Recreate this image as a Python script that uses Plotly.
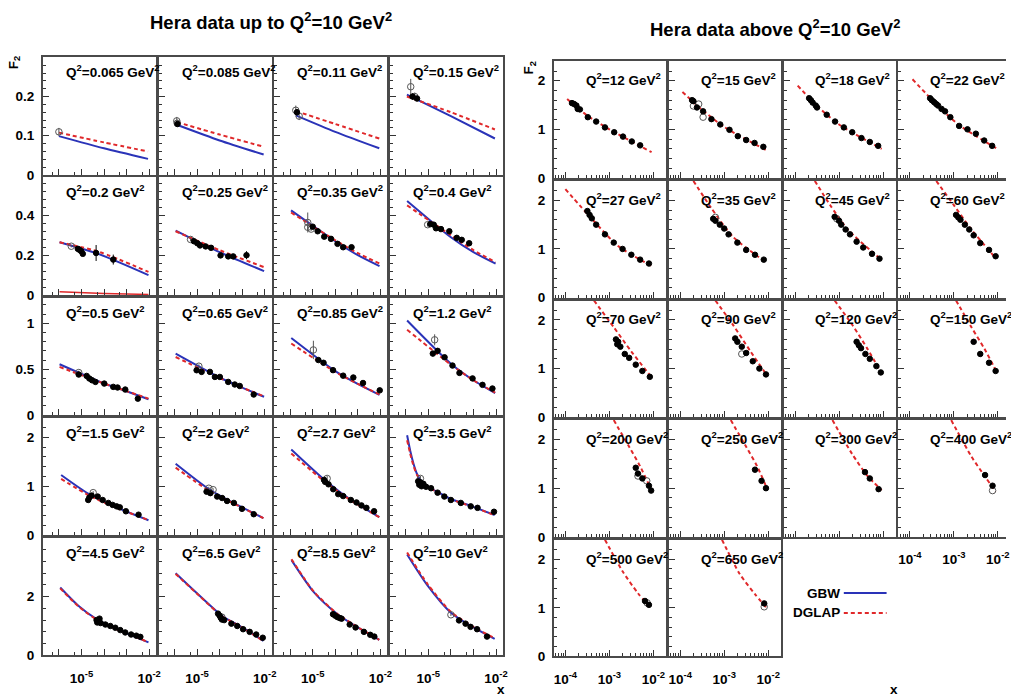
import plotly.graph_objects as go

W, H = 1011, 697

# ---------------- data (x stored as log10(x)) ----------------
LEFT_Q2 = ["0.065", "0.085", "0.11", "0.15", "0.2", "0.25", "0.35", "0.4",
           "0.5", "0.65", "0.85", "1.2", "1.5", "2", "2.7", "3.5",
           "4.5", "6.5", "8.5", "10"]
RIGHT_Q2 = ["12", "15", "18", "22", "27", "35", "45", "60", "70", "90",
            "120", "150", "200", "250", "300", "400", "500", "650"]

LEFT_YMAX = [0.3, 0.59, 1.28, 2.4, 4.0]
LEFT_YTICKS = [[0, 0.1, 0.2], [0, 0.2, 0.4], [0, 0.5, 1], [0, 1, 2], [0, 2]]
LEFT_YMINOR = [0.02, 0.04, 0.1, 0.2, 0.4]
RIGHT_YMAX = 2.4
RIGHT_YTICKS = [0, 1, 2]

LEFT_GBW = [
    [(-6.0, 0.099), (-4.0, 0.068), (-2.05, 0.041)],
    [(-5.9, 0.128), (-4.0, 0.088), (-2.05, 0.052)],
    [(-5.75, 0.152), (-4.0, 0.110), (-2.05, 0.068)],
    [(-5.95, 0.205), (-4.0, 0.150), (-2.05, 0.093)],
    [(-5.97, 0.265), (-4.2, 0.204), (-2.03, 0.100)],
    [(-5.95, 0.323), (-4.0, 0.215), (-2.03, 0.120)],
    [(-5.96, 0.425), (-4.0, 0.270), (-3.0, 0.200), (-2.04, 0.145)],
    [(-5.94, 0.472), (-4.0, 0.290), (-3.0, 0.215), (-2.02, 0.158)],
    [(-5.97, 0.554), (-4.0, 0.345), (-3.0, 0.260), (-2.03, 0.174)],
    [(-5.95, 0.670), (-4.0, 0.410), (-3.0, 0.300), (-2.03, 0.200)],
    [(-5.95, 0.840), (-4.0, 0.480), (-3.0, 0.340), (-2.04, 0.220)],
    [(-5.94, 1.030), (-4.0, 0.560), (-3.0, 0.380), (-2.04, 0.240)],
    [(-5.90, 1.230), (-4.7, 0.850), (-3.5, 0.580), (-2.03, 0.307)],
    [(-5.95, 1.460), (-4.5, 0.950), (-3.3, 0.640), (-2.06, 0.350)],
    [(-5.95, 1.750), (-4.4, 1.100), (-3.3, 0.720), (-2.05, 0.370)],
    [(-5.94, 2.040), (-5.80, 1.720), (-5.65, 1.450), (-5.50, 1.250),
     (-5.30, 1.100), (-5.0, 0.990), (-4.5, 0.860), (-4.0, 0.740),
     (-3.0, 0.580), (-2.06, 0.410)],
    [(-5.94, 2.310), (-5.15, 1.700), (-4.3, 1.220), (-3.5, 0.920), (-2.03, 0.445)],
    [(-5.95, 2.790), (-4.85, 2.000), (-3.9, 1.350), (-3.0, 0.950), (-2.06, 0.490)],
    [(-5.94, 3.240), (-4.94, 2.140), (-3.9, 1.400), (-3.0, 0.950), (-2.05, 0.530)],
    [(-5.94, 3.430), (-5.03, 2.370), (-4.0, 1.450), (-3.0, 0.950), (-2.06, 0.560)],
]
LEFT_DGLAP = [
    [(-6.0, 0.108), (-4.0, 0.083), (-2.05, 0.060)],
    [(-5.9, 0.135), (-4.0, 0.103), (-2.05, 0.072)],
    [(-5.75, 0.163), (-4.0, 0.130), (-2.05, 0.093)],
    [(-5.95, 0.200), (-4.0, 0.160), (-2.05, 0.116)],
    [(-5.97, 0.265), (-4.2, 0.216), (-2.03, 0.116)],
    [(-5.95, 0.320), (-4.0, 0.225), (-2.03, 0.140)],
    [(-5.96, 0.414), (-4.0, 0.275), (-3.0, 0.210), (-2.04, 0.158)],
    [(-5.94, 0.450), (-4.0, 0.300), (-3.0, 0.225), (-2.02, 0.165)],
    [(-5.97, 0.525), (-4.0, 0.345), (-3.0, 0.262), (-2.03, 0.180)],
    [(-5.95, 0.633), (-4.0, 0.405), (-3.0, 0.300), (-2.03, 0.205)],
    [(-5.95, 0.780), (-4.0, 0.470), (-3.0, 0.340), (-2.04, 0.225)],
    [(-5.94, 0.930), (-4.0, 0.550), (-3.0, 0.380), (-2.04, 0.245)],
    [(-5.90, 1.150), (-4.7, 0.820), (-3.5, 0.570), (-2.03, 0.310)],
    [(-5.95, 1.380), (-4.5, 0.920), (-3.3, 0.630), (-2.06, 0.350)],
    [(-5.95, 1.670), (-4.4, 1.070), (-3.3, 0.710), (-2.05, 0.370)],
    [(-5.94, 1.940), (-5.80, 1.660), (-5.65, 1.410), (-5.50, 1.230),
     (-5.30, 1.090), (-5.0, 0.985), (-4.5, 0.855), (-4.0, 0.735),
     (-3.0, 0.575), (-2.06, 0.410)],
    [(-5.94, 2.280), (-5.15, 1.680), (-4.3, 1.200), (-3.5, 0.910), (-2.03, 0.450)],
    [(-5.95, 2.770), (-4.85, 1.990), (-3.9, 1.340), (-3.0, 0.950), (-2.06, 0.490)],
    [(-5.94, 3.270), (-4.94, 2.160), (-3.9, 1.410), (-3.0, 0.960), (-2.05, 0.530)],
    [(-5.94, 3.500), (-5.03, 2.420), (-4.0, 1.480), (-3.0, 0.970), (-2.06, 0.580)],
]
# extra low red curve seen in the Q2=0.2 panel
LEFT_LOW_RED = [(-5.97, 0.017), (-4.0, 0.008), (-2.03, 0.003)]

LEFT_FILLED = [
    [],
    [(-5.87, 0.130, 0.005)],
    [(-5.70, 0.160, 0.008)],
    [(-5.70, 0.200, 0.008), (-5.50, 0.195, 0.007)],
    [(-5.16, 0.232, 0.006), (-5.09, 0.227, 0.006), (-5.01, 0.220, 0.006),
     (-4.94, 0.207, 0.006), (-4.35, 0.211, 0.040), (-3.59, 0.178, 0.025)],
    [(-5.14, 0.270, 0.005), (-4.99, 0.260, 0.005), (-4.87, 0.249, 0.005),
     (-4.62, 0.244, 0.005), (-4.38, 0.237, 0.005), (-3.96, 0.199, 0.006),
     (-3.62, 0.194, 0.006), (-3.40, 0.194, 0.006), (-2.81, 0.200, 0.020)],
    [(-5.00, 0.343, 0.008), (-4.78, 0.320, 0.006), (-4.49, 0.293, 0.006),
     (-4.19, 0.282, 0.006), (-3.90, 0.257, 0.006), (-3.65, 0.240, 0.006),
     (-3.28, 0.240, 0.008)],
    [(-4.91, 0.356, 0.006), (-4.76, 0.353, 0.006), (-4.66, 0.335, 0.006),
     (-4.44, 0.331, 0.006), (-4.07, 0.320, 0.007), (-3.74, 0.287, 0.007),
     (-3.52, 0.277, 0.007), (-3.19, 0.260, 0.008)],
    [(-5.12, 0.442, 0.01), (-4.77, 0.427, 0.01), (-4.65, 0.399, 0.01),
     (-4.53, 0.380, 0.01), (-4.38, 0.362, 0.01), (-3.99, 0.344, 0.01),
     (-3.59, 0.308, 0.01), (-3.40, 0.301, 0.01), (-3.06, 0.279, 0.01),
     (-2.50, 0.180, 0.015)],
    [(-5.02, 0.489, 0.01), (-4.80, 0.471, 0.01), (-4.43, 0.471, 0.01),
     (-4.21, 0.416, 0.01), (-3.99, 0.416, 0.01), (-3.62, 0.362, 0.01),
     (-3.33, 0.334, 0.01), (-3.11, 0.318, 0.01), (-2.49, 0.225, 0.015)],
    [(-4.75, 0.600, 0.02), (-4.52, 0.570, 0.02), (-4.10, 0.490, 0.015),
     (-3.65, 0.430, 0.015), (-3.20, 0.410, 0.015), (-2.77, 0.350, 0.015),
     (-2.03, 0.270, 0.015)],
    [(-4.80, 0.670, 0.03), (-4.59, 0.700, 0.03), (-4.28, 0.630, 0.02),
     (-3.93, 0.540, 0.02), (-3.62, 0.460, 0.02), (-3.04, 0.400, 0.02),
     (-2.60, 0.330, 0.02), (-2.16, 0.290, 0.02)],
    [(-4.70, 0.720, 0.02), (-4.65, 0.770, 0.02), (-4.55, 0.810, 0.02),
     (-4.28, 0.790, 0.02), (-4.06, 0.720, 0.02), (-3.81, 0.660, 0.02),
     (-3.62, 0.620, 0.02), (-3.44, 0.590, 0.02), (-3.30, 0.570, 0.02),
     (-3.03, 0.490, 0.02), (-2.47, 0.420, 0.02)],
    [(-4.58, 0.890, 0.02), (-4.41, 0.860, 0.02), (-4.11, 0.790, 0.02),
     (-3.89, 0.760, 0.02), (-3.67, 0.700, 0.02), (-3.37, 0.660, 0.02),
     (-3.01, 0.540, 0.02), (-2.49, 0.430, 0.02)],
    [(-4.50, 1.130, 0.03), (-4.45, 1.090, 0.03), (-4.30, 1.040, 0.03),
     (-4.09, 0.940, 0.02), (-3.87, 0.840, 0.02), (-3.65, 0.800, 0.02),
     (-3.31, 0.720, 0.02), (-3.06, 0.670, 0.02), (-2.84, 0.610, 0.02),
     (-2.62, 0.560, 0.02), (-2.28, 0.490, 0.02)],
    [(-5.45, 1.100, 0.03), (-5.40, 1.030, 0.03), (-5.35, 1.080, 0.03),
     (-5.30, 1.000, 0.03), (-5.22, 1.050, 0.03),
     (-5.10, 0.990, 0.02), (-4.88, 0.960, 0.02), (-4.59, 0.870, 0.02),
     (-4.29, 0.790, 0.02), (-4.00, 0.720, 0.02), (-3.56, 0.660, 0.02),
     (-3.12, 0.590, 0.02), (-2.82, 0.560, 0.02), (-2.09, 0.480, 0.02)],
    [(-4.33, 1.200, 0.03), (-4.30, 1.120, 0.03), (-4.25, 1.150, 0.03),
     (-4.20, 1.250, 0.03), (-4.15, 1.100, 0.03), (-3.94, 1.050, 0.02),
     (-3.72, 1.000, 0.02), (-3.50, 0.940, 0.02), (-3.28, 0.860, 0.02),
     (-3.06, 0.780, 0.02), (-2.80, 0.710, 0.02), (-2.57, 0.670, 0.02),
     (-2.39, 0.630, 0.02)],
    [(-4.07, 1.420, 0.03), (-4.00, 1.350, 0.03), (-3.95, 1.280, 0.03),
     (-3.90, 1.220, 0.03), (-3.80, 1.200, 0.03), (-3.48, 1.080, 0.02),
     (-3.22, 1.000, 0.02), (-2.96, 0.890, 0.02), (-2.67, 0.800, 0.02),
     (-2.38, 0.710, 0.02), (-2.09, 0.600, 0.02)],
    [(-4.10, 1.400, 0.03), (-4.00, 1.350, 0.03), (-3.90, 1.300, 0.03),
     (-3.80, 1.270, 0.03), (-3.72, 1.250, 0.03), (-3.36, 1.050, 0.02),
     (-3.10, 0.950, 0.02), (-2.73, 0.800, 0.02), (-2.45, 0.700, 0.02),
     (-2.27, 0.640, 0.02)],
    [(-3.64, 1.190, 0.03), (-3.35, 1.080, 0.02), (-3.13, 0.970, 0.02),
     (-2.84, 0.890, 0.02), (-2.40, 0.640, 0.02)],
]
LEFT_OPEN = [
    [(-6.00, 0.110, 0.010)],
    [(-5.90, 0.138, 0.010), (-5.88, 0.132, 0.008)],
    [(-5.75, 0.165, 0.012), (-5.60, 0.150, 0.010)],
    [(-5.78, 0.225, 0.020), (-5.60, 0.200, 0.010)],
    [(-5.45, 0.245, 0.006)],
    [(-5.29, 0.279, 0.008)],
    [(-5.22, 0.364, 0.050), (-5.22, 0.340, 0.015), (-5.07, 0.331, 0.010)],
    [(-5.03, 0.353, 0.010)],
    [(-5.12, 0.464, 0.020)],
    [(-4.92, 0.533, 0.020)],
    [(-4.97, 0.710, 0.100)],
    [(-4.72, 0.820, 0.060)],
    [(-4.48, 0.870, 0.030)],
    [(-4.48, 0.960, 0.030), (-4.29, 0.930, 0.030)],
    [(-4.36, 1.160, 0.050)],
    [(-5.35, 1.160, 0.050)],
    [],
    [(-3.90, 1.300, 0.040)],
    [],
    [(-4.00, 1.380, 0.040)],
]

RIGHT_DGLAP = [
    [(-3.96, 1.625), (-3.5, 1.280), (-3.0, 1.000), (-2.04, 0.530)],
    [(-3.95, 1.770), (-3.5, 1.400), (-3.0, 1.050), (-2.04, 0.570)],
    [(-3.94, 1.900), (-3.5, 1.480), (-3.0, 1.100), (-2.03, 0.600)],
    [(-3.94, 2.030), (-3.4, 1.520), (-2.9, 1.100), (-2.03, 0.610)],
    [(-4.00, 2.230), (-3.4, 1.620), (-2.8, 1.060), (-2.04, 0.650)],
    [(-3.70, 2.400), (-3.3, 1.850), (-2.8, 1.250), (-2.04, 0.720)],
    [(-3.55, 2.400), (-3.2, 1.900), (-2.8, 1.400), (-2.04, 0.780)],
    [(-3.40, 2.400), (-3.0, 1.900), (-2.6, 1.400), (-2.04, 0.800)],
    [(-3.35, 2.400), (-2.9, 1.850), (-2.5, 1.350), (-2.04, 0.820)],
    [(-3.20, 2.400), (-2.8, 1.900), (-2.4, 1.350), (-2.02, 0.850)],
    [(-3.10, 2.400), (-2.7, 1.900), (-2.35, 1.400), (-2.02, 0.880)],
    [(-2.95, 2.400), (-2.6, 1.850), (-2.3, 1.400), (-2.02, 0.920)],
    [(-2.90, 2.400), (-2.55, 1.850), (-2.3, 1.450), (-2.04, 0.950)],
    [(-2.85, 2.400), (-2.5, 1.850), (-2.25, 1.450), (-2.03, 1.000)],
    [(-3.15, 2.400), (-2.7, 1.700), (-2.35, 1.250), (-2.03, 0.960)],
    [(-3.06, 2.400), (-2.6, 1.650), (-2.3, 1.250), (-2.05, 0.930)],
    [(-3.10, 2.400), (-2.7, 1.750), (-2.35, 1.300), (-2.04, 0.970)],
    [(-3.05, 2.400), (-2.65, 1.700), (-2.3, 1.280), (-2.04, 1.000)],
]
RIGHT_FILLED = [
    [(-3.85, 1.54), (-3.80, 1.52), (-3.75, 1.49), (-3.72, 1.42), (-3.67, 1.41),
     (-3.49, 1.25), (-3.30, 1.16), (-3.10, 1.04), (-2.89, 0.94), (-2.69, 0.85),
     (-2.49, 0.75), (-2.30, 0.67)],
    [(-3.73, 1.60), (-3.70, 1.58), (-3.62, 1.45), (-3.48, 1.37), (-3.29, 1.21),
     (-3.09, 1.10), (-2.88, 0.99), (-2.69, 0.86), (-2.50, 0.78), (-2.31, 0.72),
     (-2.11, 0.64)],
    [(-3.68, 1.64), (-3.64, 1.60), (-3.60, 1.55), (-3.53, 1.49), (-3.50, 1.45),
     (-3.28, 1.30), (-3.09, 1.16), (-2.89, 1.04), (-2.70, 0.94), (-2.49, 0.82),
     (-2.30, 0.74), (-2.11, 0.66)],
    [(-3.54, 1.64), (-3.50, 1.60), (-3.45, 1.56), (-3.40, 1.52), (-3.36, 1.49),
     (-3.28, 1.42), (-3.20, 1.37), (-3.08, 1.25), (-2.88, 1.07), (-2.69, 1.00),
     (-2.50, 0.91), (-2.31, 0.77), (-2.13, 0.66)],
    [(-3.50, 1.78), (-3.45, 1.70), (-3.40, 1.63), (-3.30, 1.50), (-3.10, 1.30),
     (-2.90, 1.13), (-2.70, 1.00), (-2.50, 0.88), (-2.30, 0.78), (-2.10, 0.70)],
    [(-3.25, 1.62), (-3.20, 1.58), (-3.10, 1.50), (-3.00, 1.42), (-2.90, 1.30),
     (-2.70, 1.13), (-2.50, 0.98), (-2.30, 0.88), (-2.10, 0.78)],
    [(-3.10, 1.66), (-3.00, 1.58), (-2.95, 1.50), (-2.85, 1.40), (-2.75, 1.30),
     (-2.60, 1.15), (-2.45, 1.03), (-2.25, 0.90), (-2.08, 0.80)],
    [(-2.95, 1.70), (-2.90, 1.65), (-2.85, 1.60), (-2.75, 1.50), (-2.65, 1.40),
     (-2.55, 1.28), (-2.40, 1.12), (-2.20, 0.98), (-2.05, 0.85)],
    [(-2.85, 1.60), (-2.82, 1.50), (-2.80, 1.55), (-2.75, 1.45), (-2.65, 1.30),
     (-2.55, 1.22), (-2.40, 1.08), (-2.25, 0.95), (-2.08, 0.83)],
    [(-2.75, 1.62), (-2.70, 1.55), (-2.60, 1.45), (-2.50, 1.32), (-2.35, 1.15),
     (-2.20, 1.00), (-2.05, 0.88)],
    [(-2.60, 1.55), (-2.55, 1.48), (-2.50, 1.42), (-2.40, 1.30), (-2.30, 1.20),
     (-2.15, 1.05), (-2.05, 0.92)],
    [(-2.55, 1.55), (-2.40, 1.30), (-2.20, 1.12), (-2.05, 0.95)],
    [(-2.40, 1.42), (-2.35, 1.30), (-2.25, 1.20), (-2.10, 1.05), (-2.05, 0.95)],
    [(-2.30, 1.38), (-2.15, 1.15), (-2.05, 1.00)],
    [(-2.41, 1.33), (-2.30, 1.20), (-2.10, 0.98)],
    [(-2.29, 1.27), (-2.12, 1.05)],
    [(-2.19, 1.14), (-2.10, 1.06)],
    [(-2.09, 1.09)],
]
RIGHT_OPEN = [
    [],
    [(-3.70, 1.48), (-3.58, 1.52), (-3.48, 1.25)],
    [], [], [],
    [(-3.20, 1.65)],
    [(-3.05, 1.62)],
    [], [],
    [(-2.60, 1.30)],
    [], [],
    [(-2.35, 1.25), (-2.15, 1.15)],
    [], [],
    [(-2.12, 0.95)],
    [(-2.14, 1.10)],
    [(-2.09, 1.02)],
]

# ---------------- styling ----------------
BLUE = "#2a33b8"
RED = "#e0282a"
FRAME = "#4a4a4a"
FONT = "Liberation Sans, Arial, Helvetica, sans-serif"

fig = go.Figure()
layout = {}
annotations = []
shapes = []


def px_x(p):
    return p / W


def px_y(p):
    return 1 - p / H


def add_axes(n, x0, top, w, h, xr, yr, xmaj, xtext, xminor, ymaj, yminor,
             show_xlab, show_ylab, right_line=True):
    x1 = min(x0 + w, W)
    layout[f"xaxis{n}"] = dict(
        domain=[px_x(x0), px_x(x1)], range=xr, type="log", anchor=f"y{n}",
        showline=True, mirror=True, linecolor=FRAME, linewidth=2,
        ticks="inside", ticklen=6, tickwidth=1, tickcolor="#333",
        tickmode="array", tickvals=xmaj, ticktext=xtext,
        showticklabels=show_xlab, showgrid=False, zeroline=False,
        ticklabelstandoff=9,
        tickfont=dict(family=FONT, size=13.5, color="black", weight="bold"),
        minor=dict(tickmode="array", tickvals=xminor, ticks="inside",
                   ticklen=3, tickwidth=1, tickcolor="#333", showgrid=False),
        fixedrange=True)
    layout[f"yaxis{n}"] = dict(
        domain=[px_y(top + h), px_y(top)], range=yr, anchor=f"x{n}",
        showline=True, mirror=right_line, linecolor=FRAME, linewidth=2,
        ticks="inside", ticklen=6, tickwidth=1, tickcolor="#333",
        tickmode="array", tickvals=ymaj,
        ticktext=[f"{v:g}" for v in ymaj],
        showticklabels=show_ylab, showgrid=False, zeroline=False,
        ticklabelstandoff=4,
        tickfont=dict(family=FONT, size=13.5, color="black", weight="bold"),
        minor=dict(dtick=yminor, ticks="inside", ticklen=3, tickwidth=1,
                   tickcolor="#333", showgrid=False),
        fixedrange=True)


def add_line(n, pts, color, dash, width=2):
    fig.add_trace(go.Scatter(
        x=[10 ** p[0] for p in pts], y=[p[1] for p in pts], mode="lines",
        line=dict(color=color, dash=dash, width=width, shape="spline",
                  smoothing=0.7),
        xaxis=f"x{n}", yaxis=f"y{n}", showlegend=False, hoverinfo="skip"))


def add_points(n, pts, filled):
    if not pts:
        return
    errs = [p[2] if len(p) > 2 else 0.0 for p in pts]
    fig.add_trace(go.Scatter(
        x=[10 ** p[0] for p in pts], y=[p[1] for p in pts], mode="markers",
        marker=dict(symbol="circle" if filled else "circle-open",
                    size=5.5 if filled else 6.5,
                    color="black" if filled else "#555",
                    line=dict(width=1, color="black" if filled else "#555")),
        error_y=dict(type="data", array=errs, width=0, thickness=1,
                     color="black" if filled else "#555"),
        xaxis=f"x{n}", yaxis=f"y{n}", showlegend=False, hoverinfo="skip"))


def q2_label(n_q2, x, y):
    annotations.append(dict(
        text=f"Q<sup>2</sup>={n_q2} GeV<sup>2</sup>", x=px_x(x), y=px_y(y),
        xref="paper", yref="paper", xanchor="left", yanchor="top",
        showarrow=False, font=dict(family=FONT, size=13.5, color="black",
                                   weight="bold")))


# ---------------- left block ----------------
L_X0, L_DX, L_W = 43.3, 116.2, 113.4
L_TOP, L_DY, L_H = 58, 121.5, 119
L_XMAJ = [1e-6, 1e-5, 1e-4, 1e-3, 1e-2]
L_XTXT = ["", "10<sup>-5</sup>", "", "", "10<sup>-2</sup>"]
L_XMIN = [5e-7, 5e-6, 5e-5, 5e-4, 5e-3]

n = 0
for i in range(20):
    r, c = divmod(i, 4)
    n += 1
    x0 = L_X0 + L_DX * c
    top = L_TOP + L_DY * r
    add_axes(n, x0, top, L_W, L_H, [-6.7, -1.7], [0, LEFT_YMAX[r]],
             L_XMAJ, L_XTXT, L_XMIN, LEFT_YTICKS[r], LEFT_YMINOR[r],
             show_xlab=(r == 4), show_ylab=(c == 0))
    if i == 4:
        add_line(n, LEFT_LOW_RED, RED, "solid", 1.5)
    add_line(n, LEFT_GBW[i], BLUE, "solid", 2)
    add_line(n, LEFT_DGLAP[i], RED, "4px,3px", 2)
    add_points(n, LEFT_OPEN[i], False)
    add_points(n, LEFT_FILLED[i], True)
    q2_label(LEFT_Q2[i], x0 + 21, top + 3)

# ---------------- right block ----------------
R_X0, R_DX, R_W = 556.7, 115.4, 112.5
R_TOP, R_DY, R_H = 62, 121, 118
R_PPD = 44.2
R_XMAJ = [1e-4, 1e-3, 1e-2]
R_XTXT = ["10<sup>-4</sup>", "10<sup>-3</sup>", "10<sup>-2</sup>"]
R_XMIN = [k * 1e-5 for k in (6, 7, 8, 9)] + [k * 1e-4 for k in range(2, 10)] + \
         [k * 1e-3 for k in range(2, 10)]

for i in range(20):
    r, c = divmod(i, 4)
    if i == 19:
        continue
    n += 1
    x0 = R_X0 + R_DX * c
    top = R_TOP + R_DY * r
    clipped = x0 + R_W > W
    xr_hi = -4.26 + (min(x0 + R_W, W) - x0) / R_PPD
    add_axes(n, x0, top, R_W, R_H, [-4.26, xr_hi], [0, RIGHT_YMAX],
             R_XMAJ, R_XTXT, R_XMIN, RIGHT_YTICKS, 0.2,
             show_xlab=(r == 4 or (r == 3 and c == 3)), show_ylab=(c == 0),
             right_line=not clipped)
    if i == 18:
        # legend panel
        continue
    add_line(n, RIGHT_DGLAP[i], RED, "4px,3px", 2)
    add_points(n, RIGHT_OPEN[i], False)
    add_points(n, RIGHT_FILLED[i], True)
    q2_label(RIGHT_Q2[i], x0 + 30, top + 7)

# legend inside the empty panel
for lab, yy, col, dash in (("GBW", 600, BLUE, "solid"), ("DGLAP", 620, RED, "dash")):
    annotations.append(dict(text=lab, x=px_x(846), y=px_y(yy), xref="paper",
                            yref="paper", xanchor="right", yanchor="middle",
                            showarrow=False,
                            font=dict(family=FONT, size=13.5, color="black",
                                      weight="bold")))
    shapes.append(dict(type="line", xref="paper", yref="paper",
                       x0=px_x(848), x1=px_x(891), y0=px_y(yy), y1=px_y(yy),
                       line=dict(color=col, width=2,
                                 dash="solid" if dash == "solid" else "4px,3px")))

# titles and axis labels
TITLE_FONT = dict(family=FONT, size=18.5, color="black", weight="bold")
annotations.append(dict(text="Hera data up to Q<sup>2</sup>=10 GeV<sup>2</sup>",
                        x=px_x(272), y=px_y(21), xref="paper", yref="paper",
                        xanchor="center", yanchor="middle", showarrow=False,
                        font=TITLE_FONT))
annotations.append(dict(text="Hera data above Q<sup>2</sup>=10 GeV<sup>2</sup>",
                        x=px_x(779), y=px_y(28), xref="paper", yref="paper",
                        xanchor="center", yanchor="middle", showarrow=False,
                        font=TITLE_FONT))
for fx, fy in ((14, 63), (532, 68)):
    annotations.append(dict(text="F<sub>2</sub>", x=px_x(fx), y=px_y(fy),
                            xref="paper", yref="paper", xanchor="center",
                            yanchor="middle", textangle=-90, showarrow=False,
                            font=dict(family=FONT, size=13.5, color="black",
                                      weight="bold")))
for xx in (503, 898):
    annotations.append(dict(text="x", x=px_x(xx), y=px_y(688), xref="paper",
                            yref="paper", xanchor="center", yanchor="top",
                            showarrow=False,
                            font=dict(family=FONT, size=13.5, color="black",
                                      weight="bold")))

layout.update(dict(width=W, height=H, margin=dict(l=0, r=0, t=0, b=0),
                   paper_bgcolor="white", plot_bgcolor="white",
                   showlegend=False, annotations=annotations, shapes=shapes))
fig.update_layout(**layout)
fig.write_html("out.html", config={"displayModeBar": False})
